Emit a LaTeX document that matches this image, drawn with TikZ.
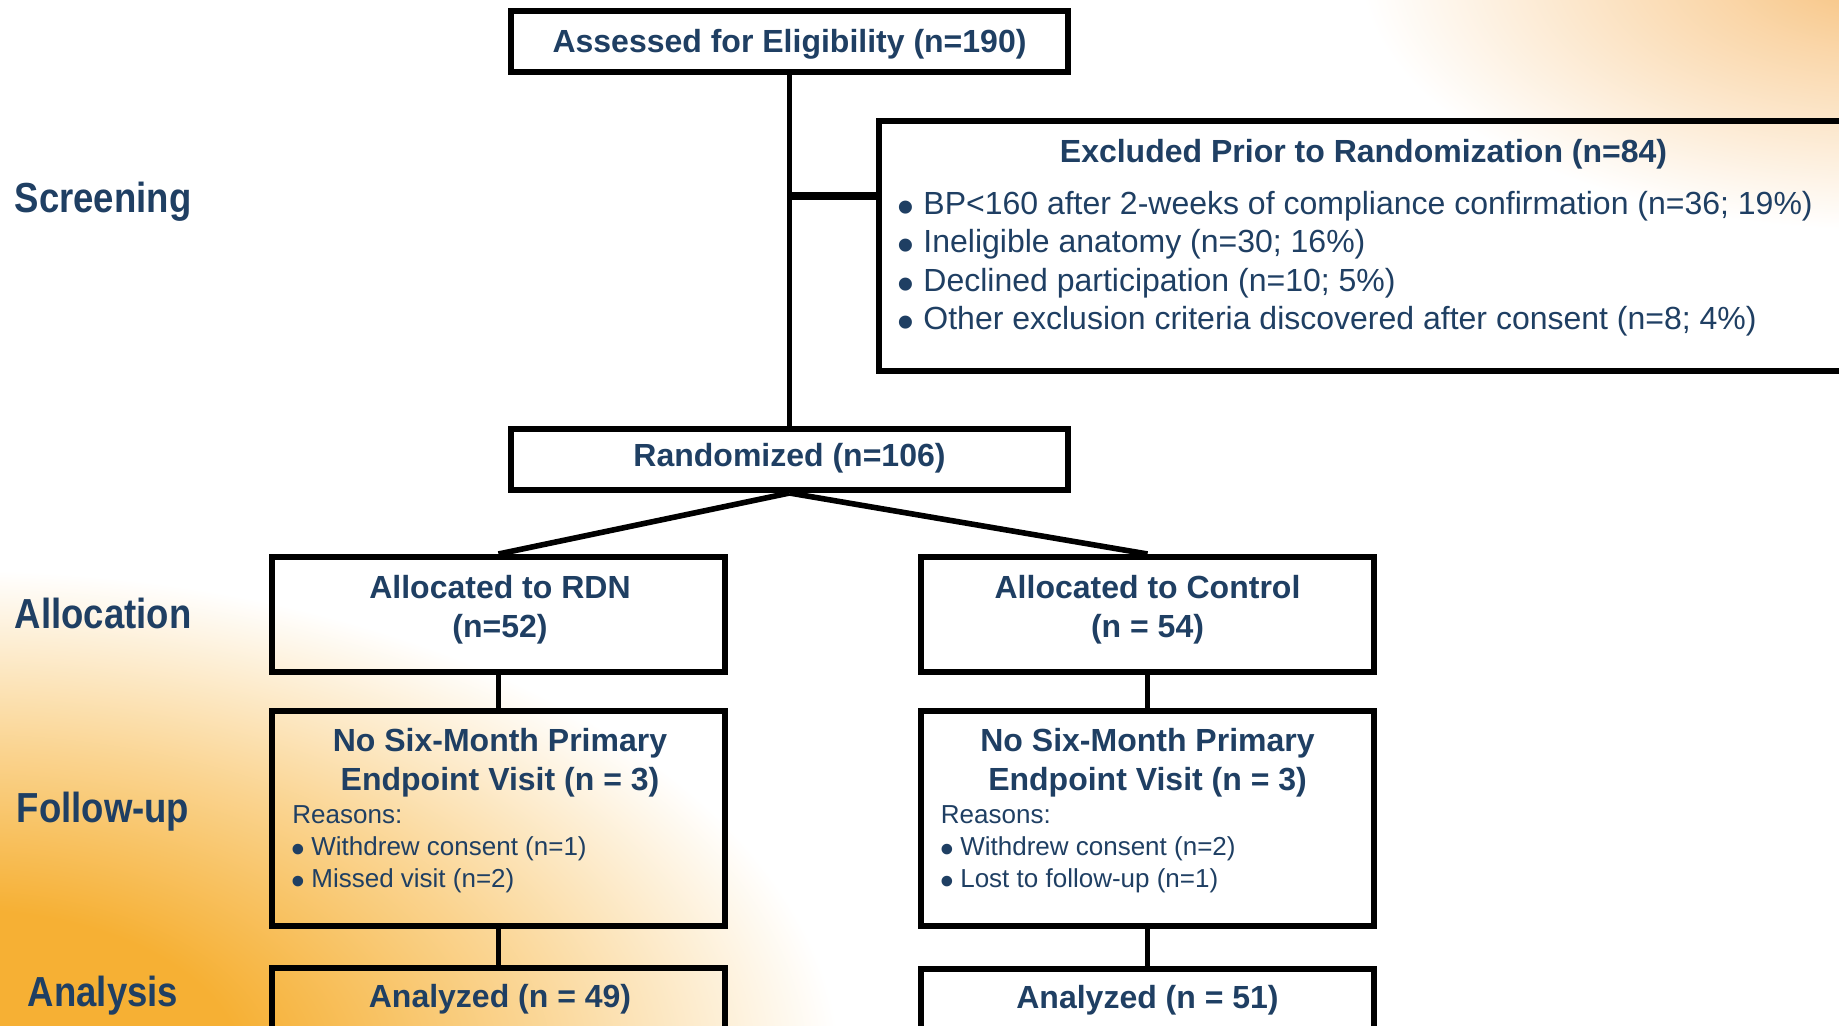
\documentclass[tikz,border=0pt]{standalone}
\usepackage{fontspec}
\setmainfont{Liberation Sans}
\usepackage{graphicx}
\definecolor{navy}{RGB}{31,63,99}
\definecolor{orBL}{RGB}{246,176,52}
\colorlet{orBLm}{orBL!55!white}
\definecolor{orTR}{RGB}{247,192,122}
\colorlet{orTRm}{orTR!65!white}
\pgfdeclareradialshading{glowbl}{\pgfpoint{0bp}{0bp}}{color(0bp)=(orBL); color(8bp)=(orBL); color(16bp)=(orBLm); color(25bp)=(white); color(50bp)=(white)}
\pgfdeclareradialshading{glowtr}{\pgfpoint{0bp}{0bp}}{color(0bp)=(orTR); color(8bp)=(orTRm); color(25bp)=(white); color(50bp)=(white)}
\newcommand{\bul}{\smash{\raisebox{-0.28em}{\scalebox{1.5}{\textbullet}}}}
\tikzset{
  box/.style={draw=black, line width=3pt, rectangle, inner sep=0pt},
  conn/.style={line width=2.8pt, draw=black},
  branchline/.style={line width=4pt, draw=black},
  maintxt/.style={font=\fontsize{16}{19.5}\selectfont\bfseries, text=navy, inner sep=0pt},
  bodytxt/.style={font=\fontsize{16}{19.5}\selectfont, text=navy, inner sep=0pt},
  smalltxt/.style={font=\fontsize{13}{16}\selectfont, text=navy, inner sep=0pt},
  phasetxt/.style={font=\fontsize{21}{25}\selectfont\bfseries, text=navy, inner sep=0pt},
}
\begin{document}
\begin{tikzpicture}[x=0.5pt,y=-0.5pt]
\useasboundingbox (0,0) rectangle (1839,1026);
\begin{scope}
\clip (0,0) rectangle (1839,1026);
\fill[white] (0,0) rectangle (1839,1026);
\shade[shading=glowbl] (-40,1070) ellipse (880 and 500);
\shade[shading=glowtr] (1880,-30) ellipse (520 and 260);

% phase labels
\node[phasetxt, anchor=base] (lscr) at (103,213) {\scalebox{0.87}[1]{Screening}};
\node[phasetxt, anchor=base] (lall) at (103,628) {\scalebox{0.87}[1]{Allocation}};
\node[phasetxt, anchor=base] (lfol) at (103,822) {\scalebox{0.87}[1]{Follow-up}};
\node[phasetxt, anchor=base] (lana) at (103,1006) {\scalebox{0.87}[1]{Analysis}};

% boxes
\node[box, minimum width=278.5pt, minimum height=30.5pt] (assess) at (789.5,41.5) {};
\node[box, minimum width=485.5pt, minimum height=125pt] (excl) at (1364.5,246) {};
\node[box, minimum width=278.5pt, minimum height=30.5pt] (rand) at (789.5,459.5) {};
\node[box, minimum width=226.5pt, minimum height=57.5pt] (allocR) at (498.5,614.5) {};
\node[box, minimum width=226.5pt, minimum height=57.5pt] (allocC) at (1147.5,614.5) {};
\node[box, minimum width=226.5pt, minimum height=107.5pt] (fuR) at (498.5,818.5) {};
\node[box, minimum width=226.5pt, minimum height=107.5pt] (fuC) at (1147.5,818.5) {};
\node[box, minimum width=226.5pt, minimum height=48.5pt] (anR) at (498.5,1016.5) {};
\node[box, minimum width=226.5pt, minimum height=48.5pt] (anC) at (1147.5,1017.5) {};

% texts
\node[maintxt, anchor=base] (assessT) at (789.5,53) {Assessed for Eligibility (n=190)};
\node[maintxt, anchor=base] (exclT) at (1363.5,162.5) {Excluded Prior to Randomization (n=84)};
\node[bodytxt, anchor=base west] (ex1) at (896.6,214.5) {\makebox[13.2pt][l]{\bul}BP<160 after 2-weeks of compliance confirmation (n=36; 19\%)};
\node[bodytxt, anchor=base west] (ex2) at (896.6,253) {\makebox[13.2pt][l]{\bul}Ineligible anatomy (n=30; 16\%)};
\node[bodytxt, anchor=base west] (ex3) at (896.6,291.5) {\makebox[13.2pt][l]{\bul}Declined participation (n=10; 5\%)};
\node[bodytxt, anchor=base west] (ex4) at (896.6,329.5) {\makebox[13.2pt][l]{\bul}Other exclusion criteria discovered after consent (n=8; 4\%)};
\node[maintxt, anchor=base] (randT) at (789.5,466.5) {Randomized (n=106)};

\node[maintxt, anchor=base] (allocRT1) at (500,598) {Allocated to RDN};
\node[maintxt, anchor=base] (allocRT2) at (500,637) {(n=52)};
\node[maintxt, anchor=base] (allocCT1) at (1147.5,598) {Allocated to Control};
\node[maintxt, anchor=base] (allocCT2) at (1147.5,637) {(n = 54)};

\node[maintxt, anchor=base] (fuRT1) at (500,751.5) {No Six-Month Primary};
\node[maintxt, anchor=base] (fuRT2) at (500,790) {Endpoint Visit (n = 3)};
\node[smalltxt, anchor=base west] (fuRr) at (292,823) {Reasons:};
\node[smalltxt, anchor=base west] (fuRb1) at (291.2,855) {\makebox[9.9pt][l]{\bul}Withdrew consent (n=1)};
\node[smalltxt, anchor=base west] (fuRb2) at (291.2,887.5) {\makebox[9.9pt][l]{\bul}Missed visit (n=2)};

\node[maintxt, anchor=base] (fuCT1) at (1147.5,751.5) {No Six-Month Primary};
\node[maintxt, anchor=base] (fuCT2) at (1147.5,790) {Endpoint Visit (n = 3)};
\node[smalltxt, anchor=base west] (fuCr) at (940.5,823) {Reasons:};
\node[smalltxt, anchor=base west] (fuCb1) at (939.7,855) {\makebox[10.1pt][l]{\bul}Withdrew consent (n=2)};
\node[smalltxt, anchor=base west] (fuCb2) at (939.7,887) {\makebox[10.1pt][l]{\bul}Lost to follow-up (n=1)};

\node[maintxt, anchor=base] (anRT) at (500,1007) {Analyzed (n = 49)};
\node[maintxt, anchor=base] (anCT) at (1147.5,1008) {Analyzed (n = 51)};

% connectors
\coordinate (br) at (789.5,196.5);
\draw[conn] (assess.south) -- (rand.north);
\draw[branchline] (br) -- (br -| excl.west);
\draw[conn] (rand.south) -- (allocR.north);
\draw[conn] (rand.south) -- (allocC.north);
\draw[conn] (allocR.south) -- (fuR.north);
\draw[conn] (allocC.south) -- (fuC.north);
\draw[conn] (fuR.south) -- (anR.north);
\draw[conn] (fuC.south) -- (anC.north);
\end{scope}
\end{tikzpicture}
\end{document}
